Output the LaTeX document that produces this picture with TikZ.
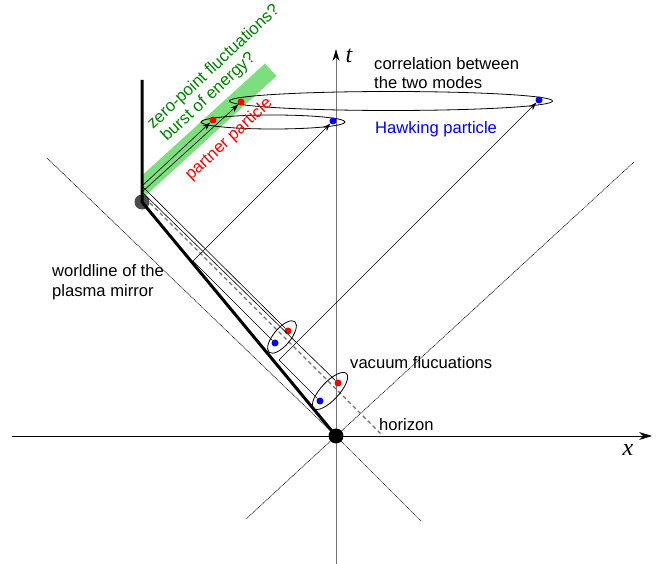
\documentclass[tikz,border=0pt]{standalone}
\usepackage{fontspec}
\setmainfont{Liberation Sans}
\newfontfamily\axisfont{Liberation Serif}
\usetikzlibrary{arrows.meta,shapes.geometric}
\definecolor{bandgreen}{RGB}{125,222,125}
\tikzset{
  lbl/.style={anchor=west, inner sep=0pt, font=\fontsize{16.6}{19.5}\selectfont, align=left},
  tilted/.style={anchor=base west, inner sep=0pt, rotate=43, font=\fontsize{16.8}{20}\selectfont},
  pdot/.style={circle, fill, inner sep=0pt, minimum size=7pt},
  pair/.style={ellipse, draw, line width=0.8pt, inner sep=0pt},
  ray/.style={line width=0.6pt},
  cone/.style={line width=0.6pt, dash pattern=on 1pt off 0.7pt},
  arr/.style={ray, -{Stealth[length=8pt,width=5.5pt]}},
  axislbl/.style={inner sep=0pt, font=\axisfont\itshape\fontsize{24}{24}\selectfont}
}

\begin{document}
\begin{tikzpicture}[x=1pt, y=-1pt]
\useasboundingbox (0,0) rectangle (657,564);

\coordinate (O) at (336,436);
\coordinate (G) at (142,202);
\coordinate (T) at (142,80);
\coordinate (xa) at (12,436);
\coordinate (xb) at (652,436);
\coordinate (ta) at (336,564);
\coordinate (tb) at (336,49);

% band where the partner modes leave the mirror
\fill[bandgreen] (265,63.5) -- (276.5,76) -- (142,199) -- (142,175.5) -- cycle;

% axes and light cone
\draw[line width=0.7pt, -{Stealth[length=13pt,width=8pt]}] (xa) -- (xb);
\draw[black!55, line width=1pt, -{Stealth[length=12pt,width=7pt,black]}] (ta) -- (tb);
\draw[cone] (47,158) -- (O) -- (421,521);
\draw[cone] (634,162) -- (O) -- (246,519);
\draw[black!55, line width=1.1pt, dash pattern=on 4pt off 3pt] (150,203) -- (382,435);

% plasma mirror
\fill[black!70] (G) circle (7.5);
\draw[line width=3pt] (O) -- (G) -- (T);
\fill (O) circle (7.5);

% pairs and their correlated partners
\node[pair, minimum width=40pt, minimum height=17pt, rotate=50] (pairA) at (282,337) {};
\node[pair, minimum width=48pt, minimum height=18pt, rotate=47] (pairB) at (330,391) {};
\node[pair, minimum width=144pt, minimum height=14pt] (corrA) at (273,122) {};
\node[pair, minimum width=323pt, minimum height=19pt] (corrB) at (391,101) {};

\node[pdot, red] (rA) at (288,331) {};
\node[pdot, blue] (bA) at (275,343) {};
\node[pdot, red] (rB) at (338,383) {};
\node[pdot, blue] (bB) at (320,401) {};
\node[pdot, red] (rA2) at (213,120) {};
\node[pdot, blue] (bA2) at (333,121) {};
\node[pdot, red] (rB2) at (241,102) {};
\node[pdot, blue] (bB2) at (539,100) {};

\coordinate (mA) at (142,186);
\coordinate (mB) at (142,192);
\coordinate (mC) at (193,261);
\coordinate (mD) at (279,360);
\draw[ray] (rA) -- (mA);
\draw[ray] (rB) -- (mB);
\draw[ray] (bA) -- (mC);
\draw[ray] (bB) -- (mD);
\draw[arr] (mA) -- (rA2);
\draw[arr] (mB) -- (rB2);
\draw[arr] (mC) -- (bA2);
\draw[arr] (mD) -- (bB2);

% labels
\node[lbl] (corr) at (374,73) {correlation between\\the two modes};
\node[lbl, text=blue] (hawk) at (375,129) {Hawking particle};
\node[lbl] (world) at (52,282) {worldline of the\\plasma mirror};
\node[lbl] (vac) at (350,363) {vacuum flucuations};
\node[lbl] (hor) at (379,425) {horizon};
\node[tilted, text=green!50!black] (zero) at (153,130) {zero-point fluctuations?};
\node[tilted, text=green!50!black] (burst) at (167,142) {burst of energy?};
\node[tilted, text=red] (partner) at (191,181) {partner particle};
\node[axislbl] (tlbl) at (349,56) {t};
\node[axislbl] (xlbl) at (628,450) {x};
\end{tikzpicture}
\end{document}
